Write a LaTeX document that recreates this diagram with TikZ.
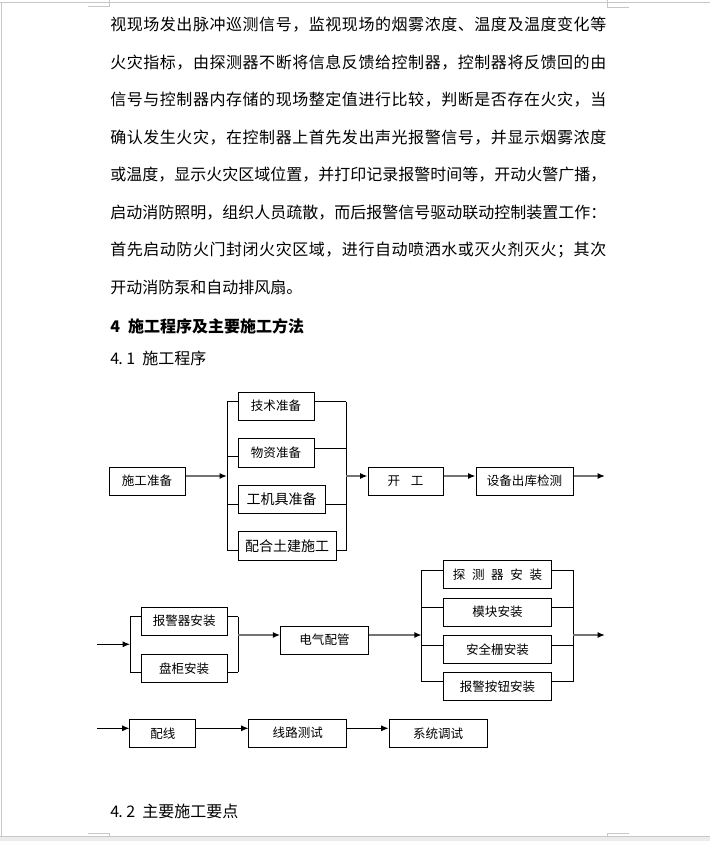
\documentclass[tikz,border=0pt]{standalone}
\usepackage{fontspec}
\setmainfont{Noto Sans CJK SC}
\usetikzlibrary{arrows.meta}
\makeatletter
\newcommand\spreadtext[2]{\makebox[#1][s]{\spr@first#2\relax}}
\def\spr@first#1{#1\spr@rest}
\def\spr@rest#1{\ifx\relax#1\else\hfil#1\expandafter\spr@rest\fi}
\makeatother
\begin{document}
\begin{tikzpicture}[x=0.75pt,y=-0.75pt,
  body/.style={anchor=base west,inner sep=0pt,font=\fontsize{12pt}{14pt}\selectfont},
  box/.style={draw=black,line width=0.75pt,inner sep=0pt,font=\fontsize{9.4pt}{11pt}\selectfont},
  boxbig/.style={box,font=\fontsize{10.5pt}{12pt}\selectfont},
  boxwh/.style 2 args={minimum width=#1*0.75pt,minimum height=#2*0.75pt},
  brk/.style={draw=black,line width=0.75pt},
  garr/.style={draw=black!55,line width=1.1pt,-{Latex[length=5.5pt,width=4.5pt,color=black]}},
  barr/.style={draw=black,line width=0.75pt,-{Latex[length=5.5pt,width=4.5pt]}},
  pagemark/.style={draw=black!22,line width=0.75pt}]
\useasboundingbox (0,0) rectangle (710,841);
\fill[white] (0,0) rectangle (710,841);
% page marks
\draw[pagemark] (0,3) -- (710,3);
\draw[pagemark] (1,3) -- (1,836);
\draw[pagemark] (109,0) -- (109,7) -- (88,7);
\draw[pagemark] (607,0) -- (607,8) -- (629,8);
\draw[pagemark] (88,833) -- (109,833) -- (109,836);
\draw[pagemark] (629,833) -- (607,833) -- (607,836);
\fill[black!8] (0,836) rectangle (710,841);
\draw[pagemark] (0,836) -- (710,836);
% body text
\node[body] (t1) at (110,31) {\spreadtext{372pt}{视现场发出脉冲巡测信号，监视现场的烟雾浓度、温度及温度变化等}};
\node[body] (t2) at (110,68.5) {\spreadtext{372pt}{火灾指标，由探测器不断将信息反馈给控制器，控制器将反馈回的由}};
\node[body] (t3) at (110,106) {\spreadtext{372pt}{信号与控制器内存储的现场整定值进行比较，判断是否存在火灾，当}};
\node[body] (t4) at (110,143.5) {\spreadtext{372pt}{确认发生火灾，在控制器上首先发出声光报警信号，并显示烟雾浓度}};
\node[body] (t5) at (110,181) {\spreadtext{372pt}{或温度，显示火灾区域位置，并打印记录报警时间等，开动火警广播，}};
\node[body] (t6) at (110,218.5) {\spreadtext{372pt}{启动消防照明，组织人员疏散，而后报警信号驱动联动控制装置工作：}};
\node[body] (t7) at (110,256) {\spreadtext{372pt}{首先启动防火门封闭火灾区域，进行自动喷洒水或灭火剂灭火；其次}};
\node[body] (t8) at (110,293.5) {开动消防泵和自动排风扇。};
\node[body,font=\fontsize{12pt}{14pt}\selectfont\bfseries] (h4) at (110,332) {4\hspace{6pt}施工程序及主要施工方法};
\node[body] (h41) at (110,364) {\makebox[6pt][l]{4}\makebox[6pt][l]{.}\makebox[6pt][l]{1}\makebox[6pt]{}施工程序};
\node[body] (h42) at (110,817) {\makebox[6pt][l]{4}\makebox[6pt][l]{.}\makebox[6pt][l]{2}\makebox[6pt]{}主要施工要点};
% row 1
\node[box,boxwh={76}{28}] (A) at (147,481) {施工准备};
\node[box,boxwh={76}{28}] (B1) at (276,406) {技术准备};
\node[box,boxwh={76}{29}] (B2) at (276,452.5) {物资准备};
\node[boxbig,boxwh={87}{28}] (B3) at (281.5,499) {工机具准备};
\node[boxbig,boxwh={98}{28.5}] (B4) at (287,546.2) {配合土建施工};
\node[box,boxwh={75}{28}] (C) at (405.5,481) {开\hspace{8pt}工};
\node[box,boxwh={97}{28}] (D) at (524.5,481) {设备出库检测};
\coordinate (j1) at (227,476);
\coordinate (j2) at (346,476);
\coordinate (o1) at (605,476);
\draw[brk] (227,401.7) -- (227,550.7);
\draw[brk] (346,401.7) -- (346,550.7);
\draw[brk] (227,401.7) -- (B1.west |- 0,401.7);
\draw[brk] (227,456.7) -- (B2.west |- 0,456.7);
\draw[brk] (227,504.3) -- (B3.west |- 0,504.3);
\draw[brk] (227,550.7) -- (B4.west |- 0,550.7);
\draw[brk] (B1.east |- 0,401.7) -- (346,401.7);
\draw[brk] (B2.east |- 0,448.3) -- (346,448.3);
\draw[brk] (B3.east |- 0,504.3) -- (346,504.3);
\draw[brk] (B4.east |- 0,550.7) -- (346,550.7);
\draw[garr] (A.east |- j1) -- (j1);
\draw[garr] (j2) -- (C.west |- j2);
\draw[garr] (C.east |- j2) -- (D.west |- j2);
\draw[garr] (D.east |- j2) -- (o1);
% row 2
\node[box,boxwh={86.3}{27.7}] (E1) at (184.2,621.2) {报警器安装};
\node[box,boxwh={86.3}{28}] (E2) at (184.2,668.3) {盘柜安装};
\node[box,boxwh={87.6}{28.3}] (F) at (324.5,640.2) {电气配管};
\node[box,boxwh={108.4}{27.6}] (G1) at (497.5,574.5) {探\hspace{5pt}测\hspace{5pt}器\hspace{5pt}安\hspace{5pt}装};
\node[box,boxwh={108.4}{27.7}] (G2) at (497.5,612.2) {模块安装};
\node[box,boxwh={108.4}{28}] (G3) at (497.5,649.3) {安全栅安装};
\node[box,boxwh={108.4}{28}] (G4) at (497.5,686.7) {报警按钮安装};
\coordinate (i2) at (97.3,644.3);
\coordinate (k1) at (130,644.3);
\coordinate (k2) at (238.3,635);
\coordinate (k3) at (421.7,635);
\coordinate (k4) at (573.3,635);
\coordinate (o2) at (605,635);
\draw[brk] (130,616.7) -- (130,672.3);
\draw[brk] (238.3,616.7) -- (238.3,672.3);
\draw[brk] (130,616.7) -- (E1.west |- 0,616.7);
\draw[brk] (130,672.3) -- (E2.west |- 0,672.3);
\draw[brk] (E1.east |- 0,616.7) -- (238.3,616.7);
\draw[brk] (E2.east |- 0,672.3) -- (238.3,672.3);
\draw[brk] (421.7,570) -- (421.7,681.7);
\draw[brk] (573.3,570) -- (573.3,681.7);
\draw[brk] (421.7,570) -- (G1.west |- 0,570);
\draw[brk] (421.7,607) -- (G2.west |- 0,607);
\draw[brk] (421.7,645) -- (G3.west |- 0,645);
\draw[brk] (421.7,681.7) -- (G4.west |- 0,681.7);
\draw[brk] (G1.east |- 0,570) -- (573.3,570);
\draw[brk] (G2.east |- 0,607) -- (573.3,607);
\draw[brk] (G3.east |- 0,645) -- (573.3,645);
\draw[brk] (G4.east |- 0,681.7) -- (573.3,681.7);
\draw[barr] (i2) -- (k1);
\draw[garr] (k2) -- (F.west |- k2);
\draw[garr] (F.east |- k2) -- (k3);
\draw[garr] (k4) -- (o2);
% row 3
\node[box,boxwh={65.7}{28.3}] (H1) at (162.8,733.2) {配线};
\node[box,boxwh={97.7}{28.3}] (H2) at (297.8,733.2) {线路测试};
\node[box,boxwh={98.3}{28.3}] (H3) at (438.2,733.2) {系统调试};
\coordinate (i3) at (97.3,728.3);
\draw[barr] (i3) -- (H1.west |- i3);
\draw[barr] (H1.east |- i3) -- (H2.west |- i3);
\draw[barr] (H2.east |- i3) -- (H3.west |- i3);
\end{tikzpicture}
\end{document}
